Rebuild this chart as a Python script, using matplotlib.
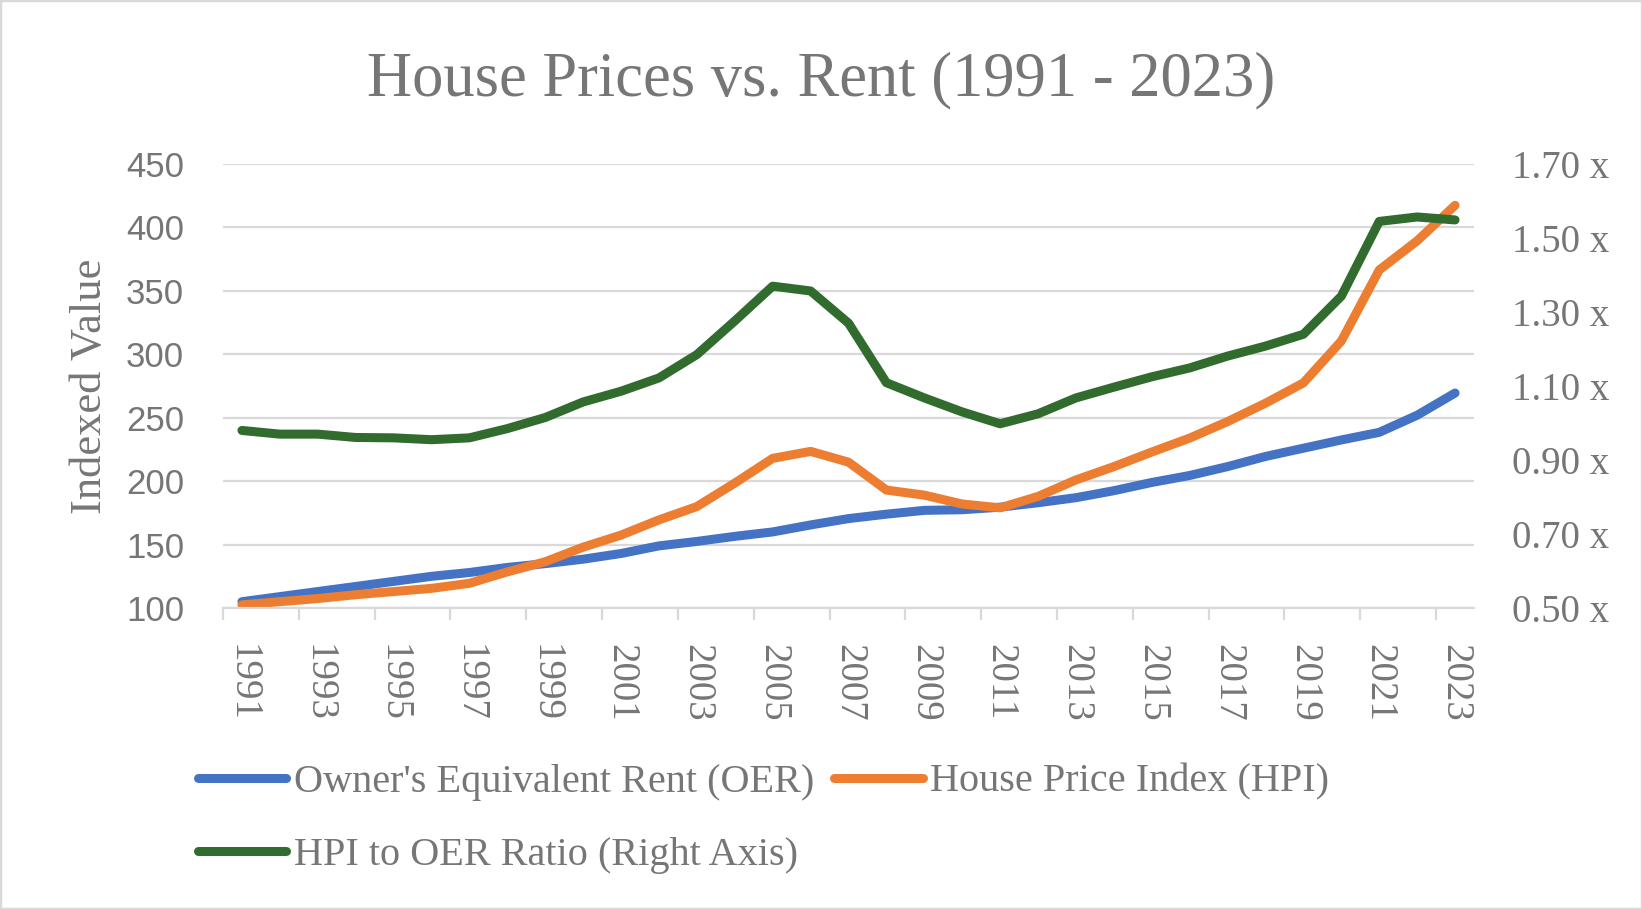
import matplotlib
matplotlib.use("Agg")
import matplotlib.pyplot as plt
from matplotlib.patches import Rectangle
import numpy as np

YEARS = list(range(1991, 2024))

OER = [105, 109, 113, 117, 121, 125, 128, 132, 135, 138.5,
       143, 149, 152.5, 156.5, 160, 165.5, 170.5, 174, 177, 177.5,
       179.5, 183, 187, 192.5, 199, 204.5, 211.5, 219.5, 226, 232.5,
       238.5, 252, 269.5]

HPI = [102.5, 105, 107.5, 110.5, 113, 115.5, 119.5, 128.5, 136.5, 148,
       157.5, 169.5, 180, 198.5, 218, 223.5, 215, 193, 189, 182,
       179, 188, 201, 211.5, 223, 234, 247, 261.5, 277.5, 310.5,
       366.5, 389.5, 417.5]

RATIO = [0.98, 0.97, 0.97, 0.961, 0.96, 0.955, 0.96, 0.985, 1.015, 1.057,
         1.086, 1.122, 1.185, 1.276, 1.37, 1.357, 1.27, 1.109, 1.068, 1.03,
         0.998, 1.025, 1.068, 1.097, 1.125, 1.149, 1.181, 1.208, 1.24, 1.343,
         1.545, 1.557, 1.549]

LEFT_TICKS = [100, 150, 200, 250, 300, 350, 400, 450]
RIGHT_TICKS = [0.5, 0.7, 0.9, 1.1, 1.3, 1.5, 1.7]

BLUE = "#4472C4"
ORANGE = "#ED7D31"
GREEN = "#326B2E"
TEXT = "#767676"
GRID = "#D9D9D9"
SERIF = "Liberation Serif"
SANS = "Liberation Sans"
LW = 6.5

fig = plt.figure(figsize=(16.42, 9.09), dpi=100)
ax = fig.add_axes([0.1358, 0.3311, 0.7619, 0.4884])
ax2 = ax.twinx()

x = np.arange(len(YEARS))
l1, = ax.plot(x, OER, color=BLUE, lw=LW, solid_capstyle="round", solid_joinstyle="round",
              label="Owner's Equivalent Rent (OER)")
l2, = ax.plot(x, HPI, color=ORANGE, lw=LW, solid_capstyle="round", solid_joinstyle="round",
              label="House Price Index (HPI)")
l3, = ax2.plot(x, RATIO, color=GREEN, lw=LW, solid_capstyle="round", solid_joinstyle="round",
               label="HPI to OER Ratio (Right Axis)")

ax.set_xlim(-0.5, len(YEARS) - 0.5)
ax.set_ylim(100, 450)
ax2.set_ylim(0.5, 1.7)

# left axis
ax.set_yticks(LEFT_TICKS)
ax.set_yticklabels([str(v) for v in LEFT_TICKS], fontfamily=SANS, fontsize=25, color=TEXT)
ax.tick_params(axis="y", length=0, pad=28)
ax.yaxis.grid(True, color=GRID, lw=1.6)
ax.set_axisbelow(True)

# right axis
ax2.set_yticks(RIGHT_TICKS)
ax2.set_yticklabels([f"{v:.2f} x" for v in RIGHT_TICKS], fontfamily=SERIF, fontsize=28, color=TEXT)
ax2.tick_params(axis="y", length=0, pad=27)

# category axis: labels every other year, marks between categories
ax.set_xticks(x[::2])
ax.set_xticklabels([str(y) for y in YEARS[::2]], rotation=-90, fontfamily=SERIF,
                   fontsize=28, color=TEXT)
ax.tick_params(axis="x", which="major", length=0, pad=26)
ax.set_xticks(np.arange(-0.5, len(YEARS) - 1, 2), minor=True)
ax.tick_params(axis="x", which="minor", length=8.6, width=1.6, color=GRID)

for a in (ax, ax2):
    for side in ("top", "left", "right", "bottom"):
        a.spines[side].set_visible(False)
ax.spines["bottom"].set_visible(True)
ax.spines["bottom"].set_color(GRID)
ax.spines["bottom"].set_linewidth(1.6)

fig.text(0.5, 1 - 80 / 909, "House Prices vs. Rent (1991 - 2023)", ha="center", va="center",
         fontfamily=SERIF, fontsize=45, color=TEXT)
fig.text(90 / 1642, 1 - 386 / 909, "Indexed Value", ha="center", va="center", rotation=90,
         fontfamily=SERIF, fontsize=32, color=TEXT)

leg = fig.legend([l1, l3, l2], [l1.get_label(), l3.get_label(), l2.get_label()],
                 ncol=2, loc="upper left", bbox_to_anchor=(0.1205, 0.160),
                 frameon=False, borderpad=0, borderaxespad=0,
                 handlelength=2.2, handletextpad=0.18, columnspacing=0.5, labelspacing=0.9,
                 prop={"family": SERIF, "size": 29})
for t in leg.get_texts():
    t.set_color(TEXT)

fig.patches.append(Rectangle((0, 0), 1, 1, transform=fig.transFigure, fill=False,
                             edgecolor=GRID, lw=2.5))

fig.savefig("out.png", dpi=100, facecolor="white")
